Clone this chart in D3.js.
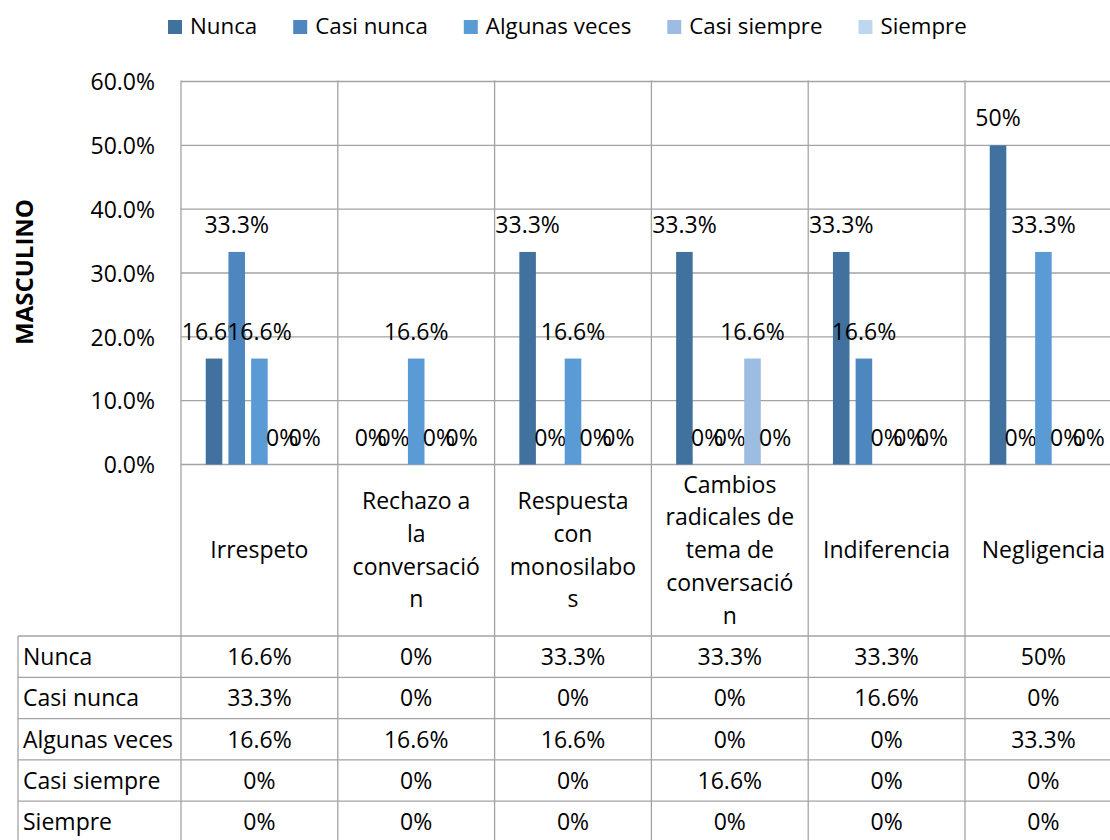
<!DOCTYPE html>
<html>
<head>
<meta charset="utf-8">
<script src="https://cdn.jsdelivr.net/npm/d3@7"></script>
<style>
  body { margin: 0; background: #fff; }
  svg { display: block; font-family: "Open Sans", sans-serif; }
</style>
</head>
<body>
<svg id="chart" width="1110" height="840"></svg>
<script>
var categories = ["Irrespeto", "Rechazo a la conversación", "Respuesta con monosilabos",
  "Cambios radicales de tema de conversación", "Indiferencia", "Negligencia"];
// wrapped the way the source spreadsheet wrapped them
var categoryLines = [
  ["Irrespeto"],
  ["Rechazo a", "la", "conversació", "n"],
  ["Respuesta", "con", "monosilabo", "s"],
  ["Cambios", "radicales de", "tema de", "conversació", "n"],
  ["Indiferencia"],
  ["Negligencia"]
];
var series = ["Nunca", "Casi nunca", "Algunas veces", "Casi siempre", "Siempre"];
var nunca        = [0.166, 0,     0.333, 0.333, 0.333, 0.5];
var casiNunca    = [0.333, 0,     0,     0,     0.166, 0];
var algunasVeces = [0.166, 0.166, 0.166, 0,     0,     0.333];
var casiSiempre  = [0,     0,     0,     0.166, 0,     0];
var siempre      = [0,     0,     0,     0,     0,     0];
var yTicks = [0, 0.1, 0.2, 0.3, 0.4, 0.5, 0.6];
var colors = ["#41729f", "#4e87c0", "#5b9bd5", "#9dbce2", "#bdd7ee"];

var values = [nunca, casiNunca, algunasVeces, casiSiempre, siempre];

var svg = d3.select("#chart");
var gridColor = "#a3a3a3";

var plotLeft = 181, catWidth = 156.8;
var plotTop = 81.5, plotBottom = 464.5;
var labelBottom = 636, rowH = 41.3, tableLeft = 18;

var x0 = d3.scaleBand().domain(categories)
  .range([plotLeft, plotLeft + catWidth * categories.length]);
var x1 = d3.scaleBand().domain(series).range([0, x0.bandwidth()])
  .paddingInner(0.27).paddingOuter(1.09);
var y = d3.scaleLinear().domain([0, 0.6]).range([plotBottom, plotTop]);
var color = d3.scaleOrdinal().domain(series).range(colors);

function pct(v) {
  var s = (v * 100).toFixed(1);
  if (s.slice(-2) === ".0") s = s.slice(0, -2);
  return s + "%";
}

var right = x0.range()[1];

// horizontal gridlines
svg.append("g").selectAll("line").data(yTicks).enter().append("line")
  .attr("x1", plotLeft).attr("x2", right)
  .attr("y1", function(d){ return y(d); }).attr("y2", function(d){ return y(d); })
  .attr("stroke", gridColor).attr("stroke-width", 1.3);

// vertical category lines through plot, labels and table
var bounds = categories.map(function(c){ return x0(c); });
svg.append("g").selectAll("line").data(bounds).enter().append("line")
  .attr("x1", function(d){ return d; }).attr("x2", function(d){ return d; })
  .attr("y1", plotTop - 1).attr("y2", 840)
  .attr("stroke", gridColor).attr("stroke-width", 1.3);

// table lines
var rowLines = d3.range(series.length + 1).map(function(i){ return labelBottom + i * rowH; });
svg.append("g").selectAll("line").data(rowLines).enter().append("line")
  .attr("x1", tableLeft).attr("x2", right)
  .attr("y1", function(d){ return d; }).attr("y2", function(d){ return d; })
  .attr("stroke", gridColor).attr("stroke-width", 1.3);
svg.append("line")
  .attr("x1", tableLeft).attr("x2", tableLeft)
  .attr("y1", labelBottom).attr("y2", 840)
  .attr("stroke", gridColor).attr("stroke-width", 1.3);

// y axis
var yAxis = svg.append("g")
  .attr("transform", "translate(" + (plotLeft - 26) + ",0)")
  .call(d3.axisLeft(y).tickValues(yTicks).tickFormat(d3.format(".1%")).tickSize(0).tickPadding(0));
yAxis.select(".domain").remove();
yAxis.selectAll("text")
  .attr("font-family", "Open Sans").attr("font-size", 23).attr("fill", "#000")
  .attr("dy", "0.36em");

svg.append("text")
  .attr("transform", "translate(32.5," + 272 + ") rotate(-90)")
  .attr("text-anchor", "middle")
  .attr("font-size", 24).attr("font-weight", "bold")
  .text("MASCULINO");

// bars
var groups = svg.append("g").selectAll("g").data(series).enter().append("g")
  .attr("fill", function(s){ return color(s); });

groups.selectAll("rect").data(function(s, i){
    return categories.map(function(c, j){ return {s: s, c: c, v: values[i][j]}; });
  }).enter().append("rect")
  .attr("x", function(d){ return x0(d.c) + x1(d.s); })
  .attr("width", x1.bandwidth())
  .attr("y", function(d){ return y(d.v); })
  .attr("height", function(d){ return y(0) - y(d.v); });

// data labels
groups.selectAll("text").data(function(s, i){
    return categories.map(function(c, j){ return {s: s, c: c, v: values[i][j]}; });
  }).enter().append("text")
  .attr("x", function(d){ return x0(d.c) + x1(d.s) + x1.bandwidth() / 2; })
  .attr("y", function(d){ return y(d.v) - 27 + 8; })
  .attr("text-anchor", "middle")
  .attr("font-size", 23).attr("fill", "#000")
  .text(function(d){ return pct(d.v); });

// category labels
var labelMid = (plotBottom + labelBottom) / 2, lineH = 32.8;
svg.append("g").selectAll("text").data(categories).enter().append("text")
  .attr("text-anchor", "middle").attr("font-size", 23)
  .each(function(c, j){
    var lines = categoryLines[j];
    var t = d3.select(this);
    lines.forEach(function(l, k){
      t.append("tspan")
        .attr("x", x0(c) + x0.bandwidth() / 2)
        .attr("y", labelMid + (k - (lines.length - 1) / 2) * lineH + 8)
        .text(l);
    });
  });

// data table
series.forEach(function(s, i){
  var cy = labelBottom + i * rowH + rowH / 2 + 8.5;
  svg.append("text")
    .attr("x", tableLeft + 5).attr("y", cy)
    .attr("font-size", 23).text(s);
  svg.append("g").selectAll("text").data(values[i]).enter().append("text")
    .attr("x", function(v, j){ return x0(categories[j]) + x0.bandwidth() / 2; })
    .attr("y", cy)
    .attr("text-anchor", "middle").attr("font-size", 23)
    .text(function(v){ return pct(v); });
});

// legend
var legend = svg.append("g");
var lx = 168;
series.forEach(function(s){
  legend.append("rect")
    .attr("x", lx).attr("y", 20).attr("width", 14).attr("height", 14)
    .attr("fill", color(s));
  var t = legend.append("text")
    .attr("x", lx + 22).attr("y", 33.5)
    .attr("font-size", 22.3).text(s);
  lx += 22 + t.node().getComputedTextLength() + 36;
});
</script>
</body>
</html>
